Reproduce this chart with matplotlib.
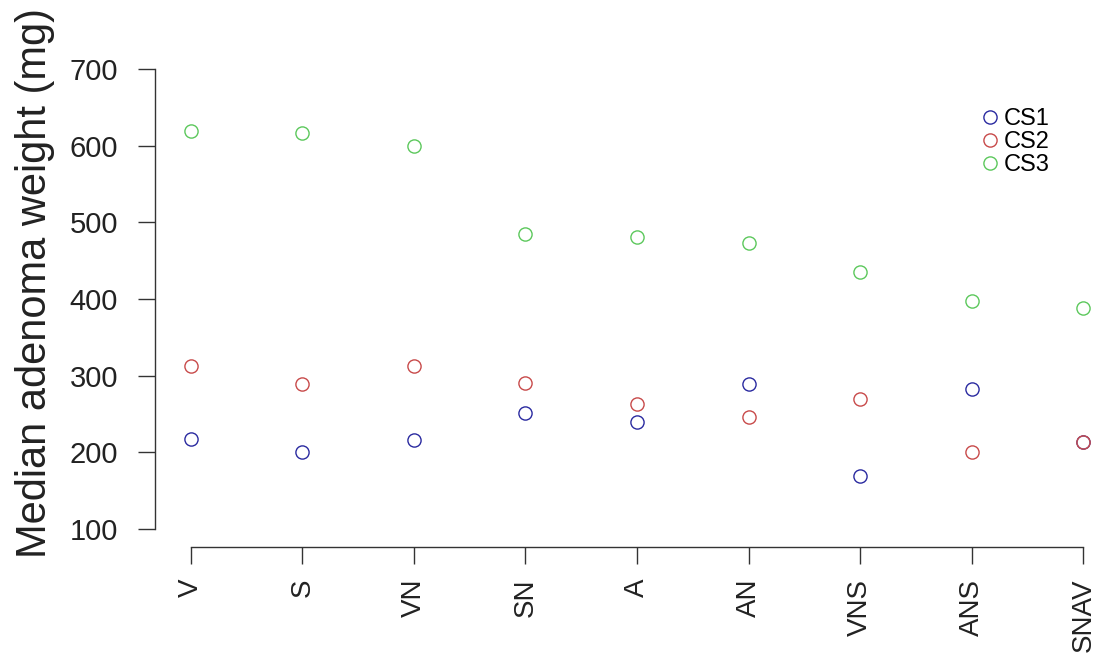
import matplotlib.pyplot as plt
import numpy as np

plt.rcParams['font.family'] = ['Liberation Sans', 'DejaVu Sans']

# data
groups = ['V', 'S', 'VN', 'SN', 'A', 'AN', 'VNS', 'ANS', 'SNAV']
cs1 = [217, 200, 216, 251, 240, 289, 169, 283, 214]
cs2 = [313, 289, 313, 290, 263, 246, 270, 200, 214]
cs3 = [619, 617, 600, 485, 481, 473, 435, 397, 388]
yticks = [100, 200, 300, 400, 500, 600, 700]

colors = {'CS1': '#2a2aa0', 'CS2': '#c84a4a', 'CS3': '#5cc85c'}

W, H = 1098, 670
fig = plt.figure(figsize=(W / 100, H / 100), dpi=100)
ax = fig.add_axes([155 / W, 1 - 547.4 / H, 964 / W, (547.4 - 50.6) / H])

x = np.arange(1, len(groups) + 1)
for name, vals in [('CS1', cs1), ('CS2', cs2), ('CS3', cs3)]:
    ax.plot(x, vals, linestyle='none', marker='o', markersize=9.5,
            markerfacecolor='none', markeredgecolor=colors[name],
            markeredgewidth=1.0, label=name)

# R style axes
ax.set_xlim(0.68, 9.32)
ax.set_ylim(76, 724)
for s in ['top', 'right']:
    ax.spines[s].set_visible(False)
ax.spines['left'].set_bounds(100, 700)
ax.spines['bottom'].set_bounds(1, 9)
for s in ['left', 'bottom']:
    ax.spines[s].set_color('#333333')
    ax.spines[s].set_linewidth(1.0)

ax.set_yticks(yticks)
ax.set_yticklabels([str(v) for v in yticks], fontsize=21, color='#222222')
ax.set_xticks(x)
ax.set_xticklabels(groups, rotation=90, fontsize=20, color='#222222')
ax.tick_params(axis='both', length=12.5, width=1.0, color='#333333')
ax.tick_params(axis='y', pad=14)
ax.tick_params(axis='x', pad=10)

ax.set_ylabel('Median adenoma weight (mg)', fontsize=30, color='#222222')
ax.yaxis.set_label_coords(-120 / 964, (547.4 - 558) / (547.4 - 50.6))
ax.yaxis.label.set_verticalalignment('center')
ax.yaxis.label.set_horizontalalignment('left')

fig.legend(loc='upper left', bbox_to_anchor=(978 / W, 1 - 108 / H),
           frameon=False, fontsize=17, handletextpad=0.1, labelspacing=0.05,
           handlelength=1.0, borderpad=0, borderaxespad=0)

fig.savefig('out.png', dpi=100)
